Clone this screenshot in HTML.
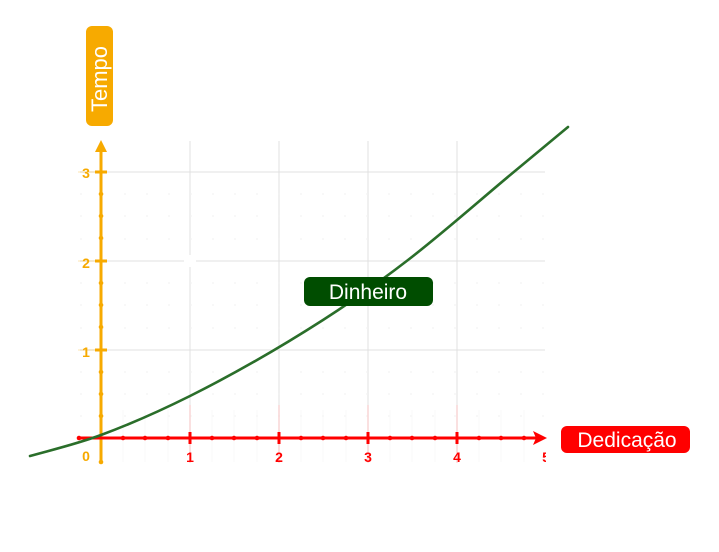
<!DOCTYPE html>
<html><head><meta charset="utf-8"><style>
html,body{margin:0;padding:0;background:#fff;}
svg{display:block;}
</style></head><body>
<svg width="719" height="552" viewBox="0 0 719 552" xmlns="http://www.w3.org/2000/svg">
<rect width="719" height="552" fill="#fff"/>
<!-- grid major -->
<g stroke="#e0e0e0" stroke-width="1">
<line x1="190" y1="141" x2="190" y2="462"/>
<line x1="279" y1="141" x2="279" y2="462"/>
<line x1="368" y1="141" x2="368" y2="462"/>
<line x1="457" y1="141" x2="457" y2="462"/>
<line x1="80" y1="172" x2="545" y2="172"/>
<line x1="80" y1="261" x2="545" y2="261"/>
<line x1="80" y1="350" x2="545" y2="350"/>
</g>
<!-- minor grid dashes -->
<g stroke="#f2f2f2" stroke-width="1" stroke-dasharray="2 20">
<line x1="80" y1="194" x2="545" y2="194"/>
<line x1="80" y1="216" x2="545" y2="216"/>
<line x1="80" y1="239" x2="545" y2="239"/>
<line x1="80" y1="283" x2="545" y2="283"/>
<line x1="80" y1="305" x2="545" y2="305"/>
<line x1="80" y1="328" x2="545" y2="328"/>
<line x1="80" y1="372" x2="545" y2="372"/>
<line x1="80" y1="394" x2="545" y2="394"/>
<line x1="80" y1="416" x2="545" y2="416"/>
</g>
<g stroke="#f8f8f8" stroke-width="1">
<line x1="123" y1="410" x2="123" y2="462"/><line x1="145" y1="410" x2="145" y2="462"/><line x1="168" y1="410" x2="168" y2="462"/>
<line x1="212" y1="410" x2="212" y2="462"/><line x1="234" y1="410" x2="234" y2="462"/><line x1="257" y1="410" x2="257" y2="462"/>
<line x1="301" y1="410" x2="301" y2="462"/><line x1="323" y1="410" x2="323" y2="462"/><line x1="346" y1="410" x2="346" y2="462"/>
<line x1="390" y1="410" x2="390" y2="462"/><line x1="412" y1="410" x2="412" y2="462"/><line x1="435" y1="410" x2="435" y2="462"/>
<line x1="479" y1="410" x2="479" y2="462"/><line x1="501" y1="410" x2="501" y2="462"/><line x1="524" y1="410" x2="524" y2="462"/>
</g>
<!-- faint red lines at integer ticks -->
<g stroke="#ffc0c0" stroke-width="1.2" opacity="0.7">
<line x1="190" y1="405" x2="190" y2="463"/>
<line x1="279" y1="405" x2="279" y2="463"/>
<line x1="368" y1="405" x2="368" y2="463"/>
<line x1="457" y1="405" x2="457" y2="463"/>
</g>
<circle cx="190" cy="261" r="6" fill="#fff"/>

<!-- Y axis -->
<g fill="#f7aa00" stroke="#f7aa00">
<line x1="101" y1="462" x2="101" y2="150" stroke-width="3"/>
<polygon points="101,140 95,152 107,152" stroke="none"/>
<g stroke="none">
<circle cx="101" cy="462" r="2.3"/>
<circle cx="101" cy="416" r="2.3"/><circle cx="101" cy="394" r="2.3"/><circle cx="101" cy="372" r="2.3"/>
<circle cx="101" cy="327" r="2.3"/><circle cx="101" cy="305" r="2.3"/><circle cx="101" cy="283" r="2.3"/>
<circle cx="101" cy="238" r="2.3"/><circle cx="101" cy="216" r="2.3"/><circle cx="101" cy="194" r="2.3"/>
<rect x="95" y="170.5" width="12" height="3"/>
<rect x="95" y="259.5" width="12" height="3"/>
<rect x="95" y="348.5" width="12" height="3"/>
</g>
<line x1="78" y1="172" x2="95" y2="172" stroke-width="1" opacity="0.3"/>
<line x1="78" y1="261" x2="95" y2="261" stroke-width="1" opacity="0.3"/>
<line x1="78" y1="350" x2="95" y2="350" stroke-width="1" opacity="0.3"/>
</g>
<g font-family="'Liberation Sans', 'DejaVu Sans', sans-serif" font-weight="bold" font-size="14" fill="#f7aa00" text-anchor="middle">
<text x="86" y="178">3</text>
<text x="86" y="268">2</text>
<text x="86" y="357">1</text>
<text x="86" y="461">0</text>
</g>

<!-- X axis -->
<g fill="#ff0000" stroke="#ff0000">
<line x1="78" y1="438" x2="537" y2="438" stroke-width="3"/>
<polygon points="547,438 533,431 536,438 533,445" stroke="none"/>
<g stroke="none">
<circle cx="79" cy="438" r="2.3"/>
<circle cx="123" cy="438" r="2.3"/><circle cx="145" cy="438" r="2.3"/><circle cx="168" cy="438" r="2.3"/>
<circle cx="212" cy="438" r="2.3"/><circle cx="234" cy="438" r="2.3"/><circle cx="257" cy="438" r="2.3"/>
<circle cx="301" cy="438" r="2.3"/><circle cx="323" cy="438" r="2.3"/><circle cx="346" cy="438" r="2.3"/>
<circle cx="390" cy="438" r="2.3"/><circle cx="412" cy="438" r="2.3"/><circle cx="435" cy="438" r="2.3"/>
<circle cx="479" cy="438" r="2.3"/><circle cx="501" cy="438" r="2.3"/><circle cx="524" cy="438" r="2.3"/>
<rect x="188.5" y="432" width="3" height="12"/>
<rect x="277.5" y="432" width="3" height="12"/>
<rect x="366.5" y="432" width="3" height="12"/>
<rect x="455.5" y="432" width="3" height="12"/>
</g>
</g>
<g font-family="'Liberation Sans', 'DejaVu Sans', sans-serif" font-weight="bold" font-size="14" fill="#ff0000" text-anchor="middle">
<text x="190" y="462">1</text>
<text x="279" y="462">2</text>
<text x="368" y="462">3</text>
<text x="457" y="462">4</text>
</g>
<svg x="540" y="445" width="6" height="20" overflow="hidden"><text x="6" y="17" font-family="'Liberation Sans', sans-serif" font-weight="bold" font-size="14" fill="#ff0000" text-anchor="middle">5</text></svg>

<!-- curve -->
<path d="M30,456 C53.7,449.4 77.3,443.8 101,435 C130.7,424 160.3,410.8 190,396 C234.3,373.8 278.7,348.4 323,320 C351.3,301.9 379.7,281.8 408,260 C443.7,232.5 479.3,200.6 515,171 C532.7,156.3 550.3,141.7 568,127" fill="none" stroke="#2a6e2a" stroke-width="2.6" stroke-linecap="round"/>

<!-- labels -->
<rect x="86" y="26" width="27" height="100" rx="6" fill="#f7aa00"/>
<text transform="translate(107,79) rotate(-90)" font-family="'Liberation Sans', 'DejaVu Sans', sans-serif" font-size="22" fill="#fff" text-anchor="middle">Tempo</text>

<rect x="304" y="277" width="129" height="29" rx="6" fill="#004d00"/>
<text x="368" y="299" font-family="'Liberation Sans', 'DejaVu Sans', sans-serif" font-size="21" fill="#fff" text-anchor="middle">Dinheiro</text>

<rect x="561" y="426" width="129" height="27" rx="6" fill="#ff0000"/>
<text x="627" y="447" font-family="'Liberation Sans', 'DejaVu Sans', sans-serif" font-size="21" fill="#fff" text-anchor="middle">Dedicação</text>
</svg>
</body></html>
